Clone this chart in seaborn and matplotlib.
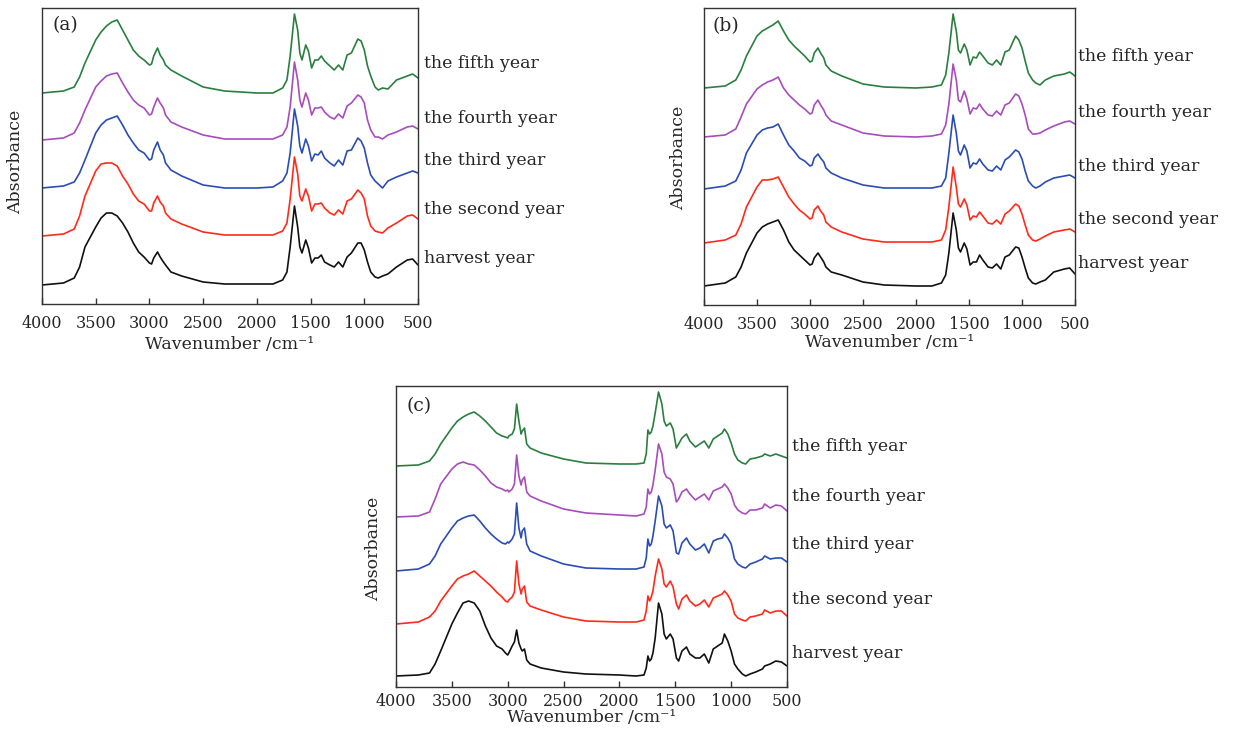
import numpy as np
import pandas as pd
import matplotlib
matplotlib.use('Agg')
import matplotlib.pyplot as plt
import seaborn as sns

# Espectros FTIR (altura relativa a la linea base de cada curva)
years = ['harvest year', 'the second year', 'the third year', 'the fourth year', 'the fifth year']
colores = ['#111111', '#ff2a1a', '#2a4db5', '#a64dbb', '#2a7f3f']
ticks_x = [4000, 3500, 3000, 2500, 2000, 1500, 1000, 500]

wn_ab = [4000, 3800, 3700, 3650, 3600, 3500, 3450, 3400, 3350, 3300,
         3250, 3200, 3150, 3100, 3050, 3000, 2980, 2960, 2925, 2900,
         2870, 2850, 2800, 2700, 2500, 2300, 2000, 1850, 1760, 1720,
         1690, 1650, 1620, 1600, 1580, 1545, 1520, 1490, 1460, 1430,
         1400, 1370, 1320, 1280, 1240, 1200, 1160, 1120, 1060, 1030,
         1000, 970, 940, 900, 870, 830, 780, 700, 600, 550, 500]

# (a)
a_harvest = [0, 2, 7, 18, 38, 58, 67, 72, 72, 69,
             62, 53, 42, 33, 28, 22, 21, 27, 33, 28,
             23, 20, 13, 9, 3, 1, 1, 1, 5, 13,
             38, 79, 58, 38, 32, 45, 37, 22, 27, 27,
             30, 23, 20, 18, 23, 18, 28, 32, 42, 42,
             35, 23, 13, 8, 7, 9, 11, 18, 25, 26, 20]
a_second = [0, 2, 7, 20, 40, 65, 72, 73, 73, 70,
            60, 52, 42, 35, 32, 25, 25, 33, 40, 34,
            30, 23, 17, 12, 4, 1, 1, 1, 5, 13,
            37, 79, 62, 40, 35, 47, 40, 25, 32, 32,
            33, 28, 23, 21, 26, 22, 35, 37, 46, 43,
            37, 20, 10, 5, 4, 3, 8, 13, 20, 21, 17]
a_third = [0, 2, 6, 15, 28, 55, 63, 68, 70, 72,
           63, 53, 45, 38, 35, 28, 29, 38, 46, 38,
           33, 25, 18, 12, 3, 0, 0, 1, 7, 15,
           35, 79, 62, 42, 35, 49, 42, 27, 34, 33,
           37, 30, 25, 22, 28, 23, 37, 38, 50, 47,
           40, 25, 13, 7, 4, 0, 7, 11, 15, 17, 15]
a_fourth = [0, 2, 7, 17, 30, 53, 59, 64, 66, 67,
            57, 48, 40, 35, 32, 25, 26, 33, 42, 37,
            32, 25, 18, 13, 5, 1, 1, 1, 5, 13,
            33, 78, 60, 40, 33, 47, 40, 25, 32, 32,
            33, 28, 23, 21, 26, 22, 34, 37, 45, 43,
            37, 20, 10, 3, 3, 1, 5, 8, 13, 14, 11]
a_fifth = [0, 2, 6, 16, 30, 53, 61, 67, 71, 73,
           63, 53, 43, 37, 33, 28, 29, 37, 45, 38,
           33, 28, 23, 17, 6, 2, 0, 0, 5, 13,
           37, 79, 63, 40, 33, 48, 42, 25, 33, 33,
           37, 32, 27, 23, 28, 23, 38, 40, 54, 52,
           43, 27, 17, 6, 3, 5, 4, 13, 17, 19, 15]
offsets_a = [19, 68, 116, 164, 211]

# (b)
b_harvest = [0, 3, 9, 19, 33, 53, 59, 62, 64, 66,
             56, 44, 36, 31, 26, 21, 22, 28, 33, 29,
             24, 19, 14, 11, 4, 1, 0, 0, 3, 11,
             33, 73, 56, 38, 34, 43, 37, 21, 24, 24,
             31, 26, 19, 18, 22, 17, 29, 31, 39, 38,
             29, 18, 8, 3, 2, 4, 6, 14, 17, 18, 12]
b_second = [0, 3, 8, 19, 36, 56, 63, 63, 64, 66,
            56, 46, 39, 33, 29, 24, 25, 33, 37, 32,
            28, 21, 16, 11, 4, 1, 1, 1, 3, 13,
            36, 76, 56, 39, 36, 44, 38, 23, 27, 26,
            31, 27, 20, 19, 23, 19, 29, 32, 39, 37,
            29, 18, 8, 3, 2, 4, 7, 11, 13, 14, 11]
b_third = [0, 3, 8, 19, 36, 54, 59, 61, 62, 65,
           54, 44, 38, 31, 28, 23, 24, 31, 35, 31,
           27, 21, 16, 11, 4, 1, 1, 1, 3, 11,
           36, 74, 56, 38, 34, 44, 38, 21, 26, 25,
           30, 25, 19, 18, 23, 19, 29, 32, 39, 37,
           30, 18, 8, 3, 1, 3, 7, 11, 13, 14, 11]
b_fourth = [0, 2, 8, 20, 33, 48, 52, 55, 57, 60,
            49, 42, 37, 32, 28, 23, 24, 32, 37, 32,
            27, 22, 16, 12, 4, 1, 0, 1, 3, 12,
            33, 73, 57, 37, 35, 46, 38, 23, 29, 28,
            33, 28, 22, 21, 26, 22, 32, 34, 43, 41,
            33, 22, 8, 3, 3, 4, 7, 11, 15, 16, 13]
b_fifth = [0, 2, 8, 18, 32, 52, 57, 60, 63, 67,
           57, 48, 42, 37, 32, 26, 27, 35, 40, 35,
           30, 23, 17, 12, 4, 1, 0, 1, 3, 13,
           35, 74, 57, 38, 35, 44, 38, 23, 31, 30,
           36, 32, 25, 23, 28, 23, 36, 38, 52, 48,
           40, 27, 15, 8, 5, 3, 8, 12, 14, 16, 12]
offsets_b = [19, 62, 116, 168, 217]

# (c)
wn_c = [4000, 3800, 3700, 3650, 3600, 3500, 3450, 3400, 3350, 3300,
        3250, 3200, 3150, 3100, 3050, 3020, 3000, 2990, 2960, 2940,
        2920, 2900, 2880, 2870, 2850, 2830, 2800, 2700, 2500, 2300,
        2000, 1850, 1780, 1760, 1745, 1730, 1715, 1700, 1680, 1650,
        1620, 1600, 1580, 1545, 1520, 1490, 1470, 1440, 1400, 1370,
        1320, 1280, 1240, 1200, 1160, 1120, 1080, 1060, 1030, 1000,
        970, 940, 900, 870, 830, 780, 720, 700, 650, 600,
        550, 500]
c_harvest = [0, 1, 3, 12, 25, 52, 63, 73, 75, 73,
             65, 50, 38, 30, 27, 23, 21, 23, 30, 34,
             46, 33, 27, 25, 27, 16, 12, 8, 4, 2,
             1, 0, 1, 8, 20, 15, 17, 23, 38, 73,
             62, 42, 37, 42, 37, 18, 15, 25, 29, 22,
             18, 18, 22, 13, 27, 30, 33, 42, 35, 25,
             12, 7, 2, 0, 2, 4, 7, 10, 12, 15,
             14, 10]
c_second = [0, 2, 7, 13, 23, 38, 45, 48, 50, 53,
            48, 43, 38, 32, 27, 23, 22, 24, 27, 32,
            63, 40, 30, 35, 38, 22, 18, 14, 7, 3,
            2, 2, 4, 13, 28, 23, 27, 33, 48, 65,
            55, 40, 37, 43, 37, 20, 15, 25, 29, 23,
            18, 20, 24, 17, 26, 28, 30, 33, 29, 23,
            10, 6, 4, 3, 7, 8, 10, 14, 11, 13,
            13, 8]
c_third = [0, 2, 7, 15, 27, 43, 50, 53, 55, 56,
           50, 43, 37, 32, 28, 27, 29, 28, 32, 37,
           68, 43, 33, 40, 43, 27, 20, 15, 7, 3,
           2, 2, 4, 13, 32, 25, 27, 35, 50, 75,
           65, 47, 43, 46, 40, 18, 17, 28, 33, 27,
           21, 23, 27, 18, 30, 32, 33, 37, 33, 27,
           12, 7, 4, 3, 7, 9, 12, 15, 12, 13,
           13, 9]
c_fourth = [0, 1, 5, 18, 33, 48, 53, 55, 53, 52,
            47, 41, 34, 30, 28, 26, 27, 25, 28, 33,
            62, 41, 32, 37, 40, 25, 21, 16, 8, 4,
            2, 1, 3, 10, 28, 23, 25, 32, 47, 73,
            63, 45, 40, 38, 33, 15, 18, 25, 28, 23,
            17, 20, 23, 17, 26, 28, 30, 33, 29, 23,
            12, 7, 4, 3, 7, 7, 9, 13, 9, 12,
            11, 6]
c_fifth = [0, 1, 5, 12, 22, 38, 45, 49, 52, 54,
           50, 45, 39, 33, 30, 29, 28, 30, 32, 37,
           62, 45, 32, 35, 38, 22, 18, 13, 7, 3,
           2, 2, 3, 12, 36, 32, 34, 40, 53, 74,
           62, 45, 40, 43, 37, 18, 22, 28, 32, 25,
           19, 22, 25, 18, 27, 30, 33, 37, 32, 23,
           12, 6, 3, 2, 7, 8, 10, 12, 10, 12,
           10, 8]
offsets_c = [11, 63, 116, 170, 221]

sns.set_theme(style='white')
plt.rcParams['font.family'] = ['DejaVu Serif']
plt.rcParams['axes.edgecolor'] = '#333333'
plt.rcParams['axes.linewidth'] = 1.0

fig = plt.figure(figsize=(12.41, 7.34), dpi=100)


def panel(rect, wn, curvas, offsets, ytop, letra, letra_pos, label_x, label_ys,
          ylab_pos, xlab_y, tick_pad):
    ax = fig.add_axes(rect)
    filas = []
    for year, vals, off in zip(years, curvas, offsets):
        for w, v in zip(wn, vals):
            filas.append((w, v + off, year))
    df = pd.DataFrame(filas, columns=['wn', 'absorb', 'year'])
    sns.lineplot(data=df, x='wn', y='absorb', hue='year', palette=dict(zip(years, colores)),
                 estimator=None, sort=False, legend=False, linewidth=1.2, ax=ax)
    ax.set_xlim(4000, 500)
    ax.set_ylim(0, ytop)
    ax.set_yticks([])
    ax.set_xticks(ticks_x)
    ax.set_xticklabels([str(t) for t in ticks_x])
    ax.tick_params(axis='x', direction='in', length=4, width=1, pad=tick_pad, labelsize=11.5,
                   color='#333333', bottom=True)
    ax.set_xlabel('Wavenumber /cm⁻¹', fontsize=12.5)
    ax.xaxis.set_label_coords(0.5, xlab_y)
    ax.set_ylabel('Absorbance', fontsize=12.5)
    ax.yaxis.set_label_coords(ylab_pos[0], ylab_pos[1])
    ax.text(letra_pos[0], letra_pos[1], letra, transform=ax.transAxes, fontsize=13.5,
            ha='left', va='center')
    for year, ly in zip(years, label_ys):
        ax.text(label_x, ly, year, transform=ax.transAxes, fontsize=12.5,
                ha='left', va='center', clip_on=False)
    return ax


panel([42 / 1241, 1 - 304 / 734, 376 / 1241, 296 / 734], wn_ab,
      [a_harvest, a_second, a_third, a_fourth, a_fifth], offsets_a, 296,
      '(a)', (0.029, 0.943), 1.016, [0.155, 0.320, 0.486, 0.628, 0.814],
      (-0.048, 0.48), -0.108, 8)

panel([704 / 1241, 1 - 305 / 734, 371 / 1241, 297 / 734], wn_ab,
      [b_harvest, b_second, b_third, b_fourth, b_fifth], offsets_b, 297,
      '(b)', (0.022, 0.94), 1.008, [0.141, 0.289, 0.467, 0.649, 0.838],
      (-0.046, 0.495), -0.098, 8)

panel([396 / 1241, 1 - 687 / 734, 391 / 1241, 301 / 734], wn_c,
      [c_harvest, c_second, c_third, c_fourth, c_fifth], offsets_c, 301,
      '(c)', (0.026, 0.934), 1.013, [0.112, 0.292, 0.474, 0.634, 0.800],
      (-0.036, 0.458), -0.074, 4)

fig.savefig('out.png', dpi=100)
